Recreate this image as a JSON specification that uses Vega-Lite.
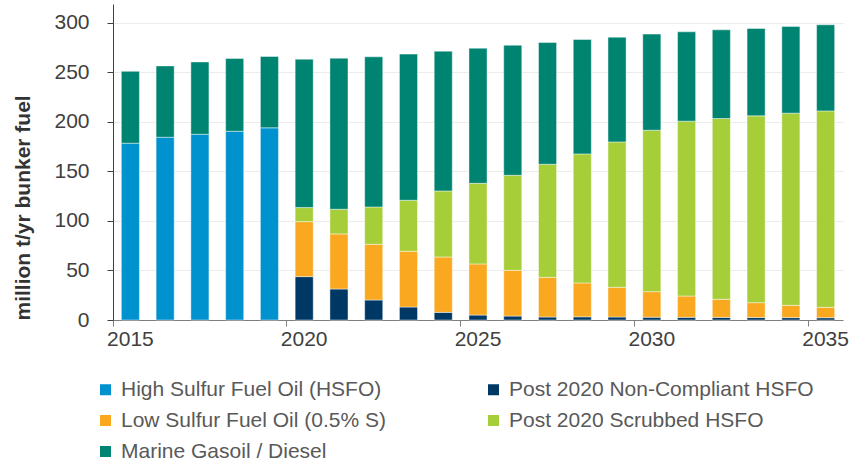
{
  "$schema": "https://vega.github.io/schema/vega-lite/v6.json",
  "width": 730,
  "height": 316,
  "autosize": {"type": "none"},
  "padding": {"left": 113, "top": 4, "right": 21, "bottom": 141},
  "background": "white",
  "config": {"view": {"stroke": null}, "font": "Liberation Sans"},
  "data": {
    "values": [
      {"year": 2015, "fuel": "High Sulfur Fuel Oil (HSFO)", "value": 178.5},
      {"year": 2015, "fuel": "Marine Gasoil / Diesel", "value": 72.5},
      {"year": 2016, "fuel": "High Sulfur Fuel Oil (HSFO)", "value": 184.5},
      {"year": 2016, "fuel": "Marine Gasoil / Diesel", "value": 72},
      {"year": 2017, "fuel": "High Sulfur Fuel Oil (HSFO)", "value": 187.5},
      {"year": 2017, "fuel": "Marine Gasoil / Diesel", "value": 73},
      {"year": 2018, "fuel": "High Sulfur Fuel Oil (HSFO)", "value": 190.5},
      {"year": 2018, "fuel": "Marine Gasoil / Diesel", "value": 73.5},
      {"year": 2019, "fuel": "High Sulfur Fuel Oil (HSFO)", "value": 194},
      {"year": 2019, "fuel": "Marine Gasoil / Diesel", "value": 72},

      {"year": 2020, "fuel": "Post 2020 Non-Compliant HSFO", "value": 43.8},
      {"year": 2020, "fuel": "Low Sulfur Fuel Oil (0.5% S)", "value": 55.5},
      {"year": 2020, "fuel": "Post 2020 Scrubbed HSFO", "value": 14.2},
      {"year": 2020, "fuel": "Marine Gasoil / Diesel", "value": 149.8},
      {"year": 2021, "fuel": "Post 2020 Non-Compliant HSFO", "value": 31.3},
      {"year": 2021, "fuel": "Low Sulfur Fuel Oil (0.5% S)", "value": 55.6},
      {"year": 2021, "fuel": "Post 2020 Scrubbed HSFO", "value": 24.9},
      {"year": 2021, "fuel": "Marine Gasoil / Diesel", "value": 152.5},
      {"year": 2022, "fuel": "Post 2020 Non-Compliant HSFO", "value": 20.2},
      {"year": 2022, "fuel": "Low Sulfur Fuel Oil (0.5% S)", "value": 56.2},
      {"year": 2022, "fuel": "Post 2020 Scrubbed HSFO", "value": 37.7},
      {"year": 2022, "fuel": "Marine Gasoil / Diesel", "value": 151.6},
      {"year": 2023, "fuel": "Post 2020 Non-Compliant HSFO", "value": 13.1},
      {"year": 2023, "fuel": "Low Sulfur Fuel Oil (0.5% S)", "value": 56.3},
      {"year": 2023, "fuel": "Post 2020 Scrubbed HSFO", "value": 51.5},
      {"year": 2023, "fuel": "Marine Gasoil / Diesel", "value": 147.5},
      {"year": 2024, "fuel": "Post 2020 Non-Compliant HSFO", "value": 7.7},
      {"year": 2024, "fuel": "Low Sulfur Fuel Oil (0.5% S)", "value": 55.9},
      {"year": 2024, "fuel": "Post 2020 Scrubbed HSFO", "value": 66.7},
      {"year": 2024, "fuel": "Marine Gasoil / Diesel", "value": 141.1},
      {"year": 2025, "fuel": "Post 2020 Non-Compliant HSFO", "value": 5.0},
      {"year": 2025, "fuel": "Low Sulfur Fuel Oil (0.5% S)", "value": 51.6},
      {"year": 2025, "fuel": "Post 2020 Scrubbed HSFO", "value": 81.4},
      {"year": 2025, "fuel": "Marine Gasoil / Diesel", "value": 136.4},
      {"year": 2026, "fuel": "Post 2020 Non-Compliant HSFO", "value": 4.0},
      {"year": 2026, "fuel": "Low Sulfur Fuel Oil (0.5% S)", "value": 46.2},
      {"year": 2026, "fuel": "Post 2020 Scrubbed HSFO", "value": 95.9},
      {"year": 2026, "fuel": "Marine Gasoil / Diesel", "value": 131.3},
      {"year": 2027, "fuel": "Post 2020 Non-Compliant HSFO", "value": 3.0},
      {"year": 2027, "fuel": "Low Sulfur Fuel Oil (0.5% S)", "value": 40.1},
      {"year": 2027, "fuel": "Post 2020 Scrubbed HSFO", "value": 114.1},
      {"year": 2027, "fuel": "Marine Gasoil / Diesel", "value": 122.9},
      {"year": 2028, "fuel": "Post 2020 Non-Compliant HSFO", "value": 3.2},
      {"year": 2028, "fuel": "Low Sulfur Fuel Oil (0.5% S)", "value": 34.2},
      {"year": 2028, "fuel": "Post 2020 Scrubbed HSFO", "value": 130.3},
      {"year": 2028, "fuel": "Marine Gasoil / Diesel", "value": 115.5},
      {"year": 2029, "fuel": "Post 2020 Non-Compliant HSFO", "value": 3.0},
      {"year": 2029, "fuel": "Low Sulfur Fuel Oil (0.5% S)", "value": 30.0},
      {"year": 2029, "fuel": "Post 2020 Scrubbed HSFO", "value": 146.8},
      {"year": 2029, "fuel": "Marine Gasoil / Diesel", "value": 105.7},
      {"year": 2030, "fuel": "Post 2020 Non-Compliant HSFO", "value": 2.8},
      {"year": 2030, "fuel": "Low Sulfur Fuel Oil (0.5% S)", "value": 25.8},
      {"year": 2030, "fuel": "Post 2020 Scrubbed HSFO", "value": 163.0},
      {"year": 2030, "fuel": "Marine Gasoil / Diesel", "value": 97.0},
      {"year": 2031, "fuel": "Post 2020 Non-Compliant HSFO", "value": 2.7},
      {"year": 2031, "fuel": "Low Sulfur Fuel Oil (0.5% S)", "value": 21.5},
      {"year": 2031, "fuel": "Post 2020 Scrubbed HSFO", "value": 176.5},
      {"year": 2031, "fuel": "Marine Gasoil / Diesel", "value": 90.2},
      {"year": 2032, "fuel": "Post 2020 Non-Compliant HSFO", "value": 2.6},
      {"year": 2032, "fuel": "Low Sulfur Fuel Oil (0.5% S)", "value": 18.3},
      {"year": 2032, "fuel": "Post 2020 Scrubbed HSFO", "value": 182.5},
      {"year": 2032, "fuel": "Marine Gasoil / Diesel", "value": 89.5},
      {"year": 2033, "fuel": "Post 2020 Non-Compliant HSFO", "value": 2.5},
      {"year": 2033, "fuel": "Low Sulfur Fuel Oil (0.5% S)", "value": 15.0},
      {"year": 2033, "fuel": "Post 2020 Scrubbed HSFO", "value": 188.6},
      {"year": 2033, "fuel": "Marine Gasoil / Diesel", "value": 88.2},
      {"year": 2034, "fuel": "Post 2020 Non-Compliant HSFO", "value": 2.4},
      {"year": 2034, "fuel": "Low Sulfur Fuel Oil (0.5% S)", "value": 12.4},
      {"year": 2034, "fuel": "Post 2020 Scrubbed HSFO", "value": 194.0},
      {"year": 2034, "fuel": "Marine Gasoil / Diesel", "value": 87.5},
      {"year": 2035, "fuel": "Post 2020 Non-Compliant HSFO", "value": 2.3},
      {"year": 2035, "fuel": "Low Sulfur Fuel Oil (0.5% S)", "value": 10.5},
      {"year": 2035, "fuel": "Post 2020 Scrubbed HSFO", "value": 198.3},
      {"year": 2035, "fuel": "Marine Gasoil / Diesel", "value": 86.9}
    ]
  },
  "transform": [
    {
      "calculate": "indexof(['High Sulfur Fuel Oil (HSFO)', 'Post 2020 Non-Compliant HSFO', 'Low Sulfur Fuel Oil (0.5% S)', 'Post 2020 Scrubbed HSFO', 'Marine Gasoil / Diesel'], datum.fuel)",
      "as": "stackRank"
    }
  ],
  "mark": {
    "type": "bar",
    "width": {"band": 0.52},
    "stroke": "#ffffff",
    "strokeWidth": 0.8,
    "strokeOpacity": 0.55
  },
  "encoding": {
    "x": {
      "field": "year",
      "type": "ordinal",
      "scale": {"paddingInner": 0, "paddingOuter": 0},
      "axis": {
        "title": null,
        "values": [2015, 2020, 2025, 2030, 2035],
        "bandPosition": 0,
        "labelAngle": 0,
        "labelFontSize": 21,
        "labelColor": "#404040",
        "labelPadding": 2,
        "tickSize": 6,
        "tickColor": "#7f7f7f",
        "domainColor": "#7f7f7f",
        "grid": false
      }
    },
    "y": {
      "field": "value",
      "type": "quantitative",
      "stack": "zero",
      "scale": {"domain": [0, 319], "nice": false},
      "axis": {
        "values": [0, 50, 100, 150, 200, 250, 300],
        "title": "million t/yr bunker fuel",
        "titleFontSize": 21,
        "titleFontWeight": "bold",
        "titleColor": "#333333",
        "titleAnchor": "start",
        "titlePadding": 20,
        "labelFontSize": 21,
        "labelColor": "#404040",
        "labelPadding": 18,
        "tickSize": 6,
        "tickColor": "#404040",
        "domainColor": "#404040",
        "gridColor": "#ececec",
        "grid": true
      }
    },
    "order": {"field": "stackRank", "type": "quantitative", "sort": "ascending"},
    "color": {
      "field": "fuel",
      "type": "nominal",
      "scale": {
        "domain": [
          "High Sulfur Fuel Oil (HSFO)",
          "Low Sulfur Fuel Oil (0.5% S)",
          "Marine Gasoil / Diesel",
          "Post 2020 Non-Compliant HSFO",
          "Post 2020 Scrubbed HSFO"
        ],
        "range": ["#0091CF", "#F9A81F", "#008472", "#003865", "#A6CE39"]
      },
      "legend": {
        "orient": "none",
        "legendX": -18,
        "legendY": 375,
        "columns": 2,
        "title": null,
        "padding": 0,
        "labelFontSize": 21,
        "labelColor": "#595959",
        "labelLimit": 400,
        "labelOffset": 5,
        "symbolType": "square",
        "symbolSize": 121,
        "symbolStrokeWidth": 0,
        "columnPadding": 97,
        "rowPadding": 9
      }
    }
  }
}
